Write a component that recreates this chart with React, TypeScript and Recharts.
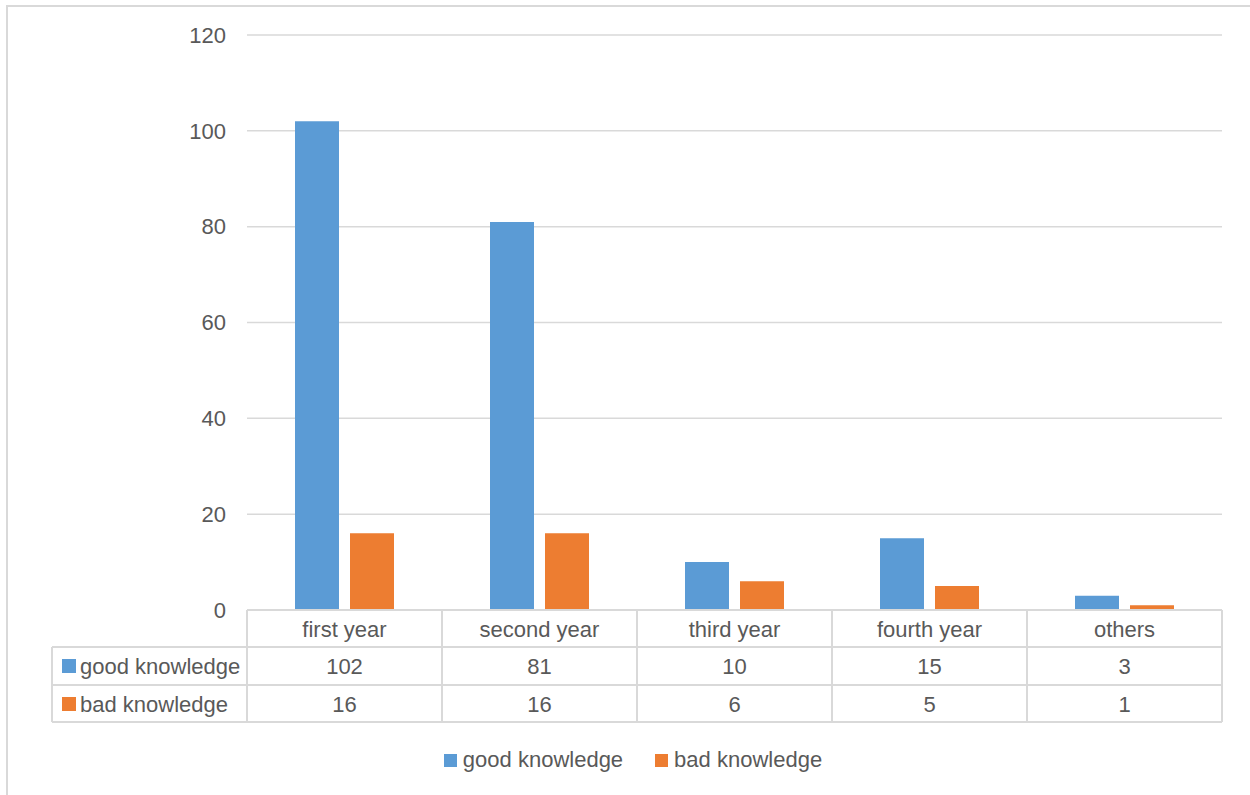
import { Bar, BarChart, CartesianGrid, Legend, XAxis, YAxis } from 'recharts'

const categories = ['first year', 'second year', 'third year', 'fourth year', 'others']
const goodKnowledge = [102, 81, 10, 15, 3]
const badKnowledge = [16, 16, 6, 5, 1]
const yTicks = [0, 20, 40, 60, 80, 100, 120]

const seriesNames = { good: 'good knowledge', bad: 'bad knowledge' }
const seriesOrder = [seriesNames.good, seriesNames.bad]

const BLUE = '#5b9bd5'
const ORANGE = '#ed7d31'
const TEXT = '#595959'
const LINE = '#d9d9d9'
const FONT = '"Liberation Sans", Arial, sans-serif'
const FONT_SIZE = 22

const CHART_W = 1250
const CHART_H = 795
const X_AXIS_H = 112
const MARGIN = { top: 35, right: 28, left: 0, bottom: 185 - X_AXIS_H }
const Y_AXIS_W = 247
const PLOT_W = CHART_W - MARGIN.left - MARGIN.right - Y_AXIS_W
const BAND = PLOT_W / categories.length

const chartData = categories.map((name, i) => ({
  name,
  good: goodKnowledge[i],
  bad: badKnowledge[i],
}))

// row offsets of the data table, measured down from the category axis
const ROW_LINES = [37, 75, 112]
const ROW_TEXT = [19, 56, 94]

function TableTick(props: any) {
  const { x, y, payload } = props
  const i = categories.indexOf(payload.value)
  const left = x - BAND / 2
  const right = x + BAND / 2
  const textProps = {
    fill: TEXT,
    fontSize: FONT_SIZE,
    fontFamily: FONT,
    dominantBaseline: 'central' as const,
  }

  return (
    <g>
      {/* series header column, drawn once with the first cell */}
      {i === 0 && (
        <g>
          {ROW_LINES.map((d) => (
            <line key={d} x1={left - BAND} x2={left} y1={y + d} y2={y + d} stroke={LINE} strokeWidth={2} />
          ))}
          <line x1={left - BAND} x2={left - BAND} y1={y + ROW_LINES[0]} y2={y + ROW_LINES[2]} stroke={LINE} strokeWidth={2} />
          <rect x={left - BAND + 10} y={y + ROW_TEXT[1] - 7} width={14} height={14} fill={BLUE} />
          <text x={left - BAND + 28} y={y + ROW_TEXT[1]} {...textProps}>
            {seriesNames.good}
          </text>
          <rect x={left - BAND + 10} y={y + ROW_TEXT[2] - 7} width={14} height={14} fill={ORANGE} />
          <text x={left - BAND + 28} y={y + ROW_TEXT[2]} {...textProps}>
            {seriesNames.bad}
          </text>
        </g>
      )}
      <line x1={left} x2={left} y1={y} y2={y + ROW_LINES[2]} stroke={LINE} strokeWidth={2} />
      {i === categories.length - 1 && (
        <line x1={right} x2={right} y1={y} y2={y + ROW_LINES[2]} stroke={LINE} strokeWidth={2} />
      )}
      {ROW_LINES.map((d) => (
        <line key={d} x1={left} x2={right} y1={y + d} y2={y + d} stroke={LINE} strokeWidth={2} />
      ))}
      <text x={x} y={y + ROW_TEXT[0]} textAnchor="middle" {...textProps}>
        {payload.value}
      </text>
      <text x={x} y={y + ROW_TEXT[1]} textAnchor="middle" {...textProps}>
        {goodKnowledge[i]}
      </text>
      <text x={x} y={y + ROW_TEXT[2]} textAnchor="middle" {...textProps}>
        {badKnowledge[i]}
      </text>
    </g>
  )
}

function LegendContent(props: any) {
  const items = [...(props.payload ?? [])].sort(
    (a: any, b: any) => seriesOrder.indexOf(a.value) - seriesOrder.indexOf(b.value),
  )
  return (
    <div style={{ display: 'flex', justifyContent: 'center', gap: 32 }}>
      {items.map((item: any) => (
        <div key={item.value} style={{ display: 'flex', alignItems: 'center', gap: 6 }}>
          <span style={{ width: 13, height: 13, background: item.color, display: 'inline-block' }} />
          <span style={{ color: TEXT, fontSize: FONT_SIZE, fontFamily: FONT }}>{item.value}</span>
        </div>
      ))}
    </div>
  )
}

export default function App() {
  return (
    <div
      style={{
        position: 'absolute',
        top: 0,
        left: 0,
        width: CHART_W,
        height: CHART_H,
        overflow: 'hidden',
        background: '#fff',
      }}
    >
      <div
        style={{
          position: 'absolute',
          left: 6,
          top: 5,
          width: CHART_W + 20,
          height: CHART_H + 20,
          borderLeft: `2px solid ${LINE}`,
          borderTop: `2px solid ${LINE}`,
        }}
      />
      <BarChart
        width={CHART_W}
        height={CHART_H}
        data={chartData}
        margin={MARGIN}
        barSize={44}
        barGap={11}
        style={{ position: 'absolute', top: 0, left: 0 }}
      >
        <CartesianGrid vertical={false} stroke={LINE} strokeWidth={1.5} />
        <XAxis
          dataKey="name"
          interval={0}
          tickSize={0}
          tickMargin={0}
          height={X_AXIS_H}
          stroke={LINE}
          strokeWidth={2}
          tick={<TableTick />}
        />
        <YAxis
          domain={[0, 120]}
          ticks={yTicks}
          width={Y_AXIS_W}
          axisLine={false}
          tickLine={false}
          tickSize={0}
          tickMargin={21}
          tick={{ fill: TEXT, fontSize: FONT_SIZE, fontFamily: FONT }}
        />
        <Legend
          layout="horizontal"
          verticalAlign="middle"
          align="center"
          wrapperStyle={{ top: 747, left: 8, width: CHART_W }}
          content={<LegendContent />}
        />
        <Bar dataKey="good" name={seriesNames.good} fill={BLUE} isAnimationActive={false} />
        <Bar dataKey="bad" name={seriesNames.bad} fill={ORANGE} isAnimationActive={false} />
      </BarChart>
    </div>
  )
}
